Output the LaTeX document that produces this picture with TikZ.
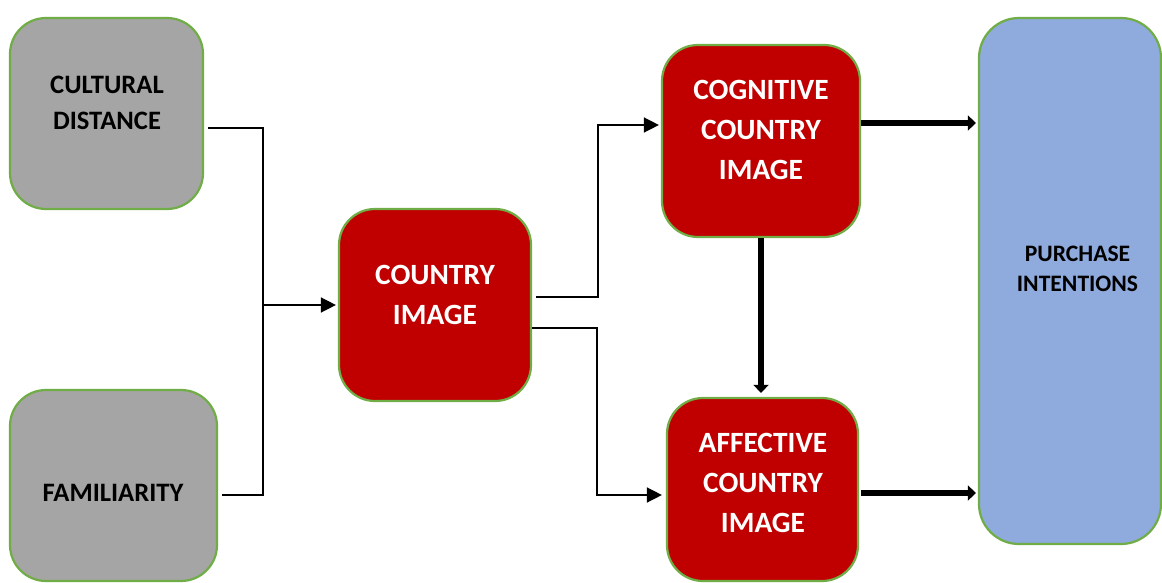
\documentclass[tikz,border=0pt]{standalone}
\usepackage{fontspec}
\setmainfont{Carlito}
\usetikzlibrary{arrows.meta,calc}
\definecolor{bordergreen}{HTML}{70AD47}
\definecolor{boxgray}{HTML}{A5A5A5}
\definecolor{boxred}{HTML}{C00000}
\definecolor{boxblue}{HTML}{8FAADC}
\tikzset{
  box/.style={draw=bordergreen, line width=1.1pt, rounded corners=18pt, inner sep=0pt},
  graybox/.style={box, fill=boxgray},
  redbox/.style={box, fill=boxred},
  bluebox/.style={box, fill=boxblue, rounded corners=20pt},
  graytxt/.style={align=center, font=\bfseries\fontsize{13.3}{18}\selectfont, text=black},
  redtxt/.style={align=center, font=\bfseries\fontsize{14.7}{20}\selectfont, text=white},
  bluetxt/.style={align=center, font=\bfseries\fontsize{11.8}{15}\selectfont, text=black},
  conn/.style={line width=0.75pt, -{Triangle[length=7.5pt,width=7.5pt]}},
  plainconn/.style={line width=0.75pt},
  thickconn/.style={line width=3pt, -{Triangle[length=4pt,width=7.5pt]}}
}
\begin{document}
\begin{tikzpicture}[x=0.5pt,y=-0.5pt]
\useasboundingbox (0,0) rectangle (1162,583);
% boxes
\node[graybox, minimum width=96.5pt, minimum height=95.5pt] (cd) at (106.5,113.5) {};
\node[graybox, minimum width=103.5pt, minimum height=95.5pt] (fam) at (113.5,485.5) {};
\node[redbox, minimum width=96pt, minimum height=96pt] (ci) at (435,305) {};
\node[redbox, minimum width=99pt, minimum height=96pt] (cog) at (761,141) {};
\node[redbox, minimum width=95.5pt, minimum height=91.5pt] (aff) at (762.5,489.5) {};
\node[bluebox, minimum width=91pt, minimum height=263pt] (pi) at (1070,281) {};
% texts
\node[graytxt] (cdt) at (107,103) {CULTURAL\\DISTANCE};
\node[graytxt] (famt) at (113,493) {FAMILIARITY};
\node[redtxt] (cit) at (435,294.5) {COUNTRY\\IMAGE};
\node[redtxt] (cogt) at (761,130) {COGNITIVE\\COUNTRY\\IMAGE};
\node[redtxt] (afft) at (763,483) {AFFECTIVE\\COUNTRY\\IMAGE};
\node[bluetxt] (pit) at (1077.5,269) {PURCHASE\\INTENTIONS};
% junction coordinates
\coordinate (j1) at (263,305);
\coordinate (k1) at (598,125);
\coordinate (k2) at (597,495);
% connectors
\draw[conn] ($(cd.east)+(4,14.5)$) -| (j1) -- ($(ci.west)+(-2,0)$);
\draw[plainconn] ($(fam.east)+(4,9.5)$) -| (j1);
\draw[conn] ($(ci.east)+(4,-8)$) -| (k1) -- ($(cog.west)+(-2,-16)$);
\draw[conn] ($(ci.east)+(0,23)$) -| (k2) -- ($(aff.west)+(-4,5.5)$);
\draw[thickconn] ($(cog.east)+(0,-18)$) -- ($(pi.west)+(-2,-158)$);
\draw[thickconn] (cog.south) -- ($(cog.south |- aff.north)+(0,-4)$);
\draw[thickconn] ($(aff.east)+(2,3.5)$) -- ($(pi.west)+(-2,212)$);
\end{tikzpicture}
\end{document}
